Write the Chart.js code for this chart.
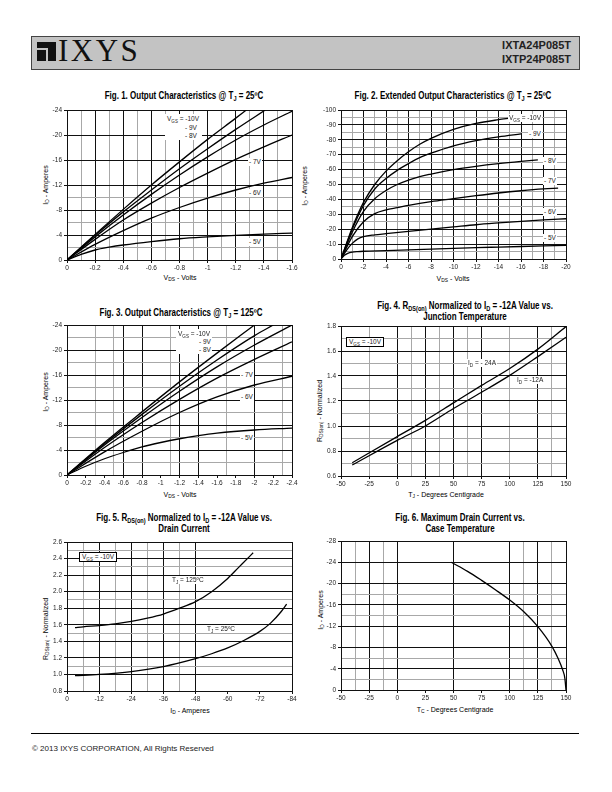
<!DOCTYPE html>
<html>
<head>
<meta charset="utf-8">
<script src="https://cdn.jsdelivr.net/npm/chart.js@4.4.0/dist/chart.umd.min.js"></script>
<style>
  body { margin: 0; width: 612px; height: 792px; position: relative; background: #fff; overflow: hidden;
         font-family: "Liberation Sans Narrow", "Liberation Sans", Arial, sans-serif; color: #000; }
  canvas { position: absolute; }
  .t { position: absolute; white-space: nowrap; }
  .ttl { position: absolute; white-space: nowrap; font-weight: bold; font-size: 10px; line-height: 11px;
         text-align: center; transform: translateX(-50%) scaleX(0.8); }
  .axt { position: absolute; white-space: nowrap; font-size: 7px; transform: translate(-50%, -50%); }
  .axt.rot { transform: translate(-50%, -50%) rotate(-90deg); }
  .lb { position: absolute; white-space: nowrap; font-size: 6.5px; line-height: 8px; background: #fff; padding: 0 1px;
        transform: translateY(-50%); color: #222; }
  .box { border: 1px solid #000; padding: 0 2px; }
  sub { font-size: 70%; vertical-align: -1.5px; line-height: 0; }
</style>
</head>
<body>

<!-- header -->
<div class="t" style="left:31px;top:36px;width:547px;height:32px;background:#c3c3c3;border:1px solid #444"></div>
<div class="t" style="left:37px;top:42px;width:19px;height:19px;background:#111"></div>
<div class="t" style="left:37px;top:48px;width:11px;height:2px;background:#c3c3c3"></div>
<div class="t" style="left:46px;top:48px;width:2px;height:13px;background:#c3c3c3"></div>
<div class="t" style="left:58px;top:33px;font-family:'Liberation Serif','Times New Roman',serif;font-size:31px;letter-spacing:2.5px;color:#111">IXYS</div>
<div class="t" style="right:41px;top:38px;font-family:'Liberation Sans',Arial,sans-serif;font-weight:bold;font-size:11px;line-height:14px;text-align:right;color:#222">IXTA24P085T<br>IXTP24P085T</div>

<!-- titles -->
<div class="ttl" style="left:184px;top:90px">Fig. 1. Output Characteristics @ T<sub>J</sub> = 25ºC</div>
<div class="ttl" style="left:453px;top:90px">Fig. 2. Extended Output Characteristics @ T<sub>J</sub> = 25ºC</div>
<div class="ttl" style="left:181px;top:307px">Fig. 3. Output Characteristics @ T<sub>J</sub> = 125ºC</div>
<div class="ttl" style="left:465px;top:300px">Fig. 4. R<sub>DS(on)</sub> Normalized to I<sub>D</sub> = -12A Value vs.<br>Junction Temperature</div>
<div class="ttl" style="left:184px;top:512px">Fig. 5. R<sub>DS(on)</sub> Normalized to I<sub>D</sub> = -12A Value vs.<br>Drain Current</div>
<div class="ttl" style="left:460px;top:512px">Fig. 6. Maximum Drain Current vs.<br>Case Temperature</div>

<!-- axis titles -->
<div class="axt" style="left:180px;top:277px">V<sub>DS</sub> - Volts</div>
<div class="axt rot" style="left:45px;top:185px">I<sub>D</sub> - Amperes</div>
<div class="axt" style="left:453px;top:278px">V<sub>DS</sub> - Volts</div>
<div class="axt rot" style="left:304px;top:186px">I<sub>D</sub> - Amperes</div>
<div class="axt" style="left:180px;top:494px">V<sub>DS</sub> - Volts</div>
<div class="axt rot" style="left:45px;top:392px">I<sub>D</sub> - Amperes</div>
<div class="axt" style="left:446px;top:494px">T<sub>J</sub> - Degrees Centigrade</div>
<div class="axt rot" style="left:319px;top:411px">R<sub>DS(on)</sub> - Normalized</div>
<div class="axt" style="left:190px;top:710px">I<sub>D</sub> - Amperes</div>
<div class="axt rot" style="left:45px;top:629px">R<sub>DS(on)</sub> - Normalized</div>
<div class="axt" style="left:455px;top:709px">T<sub>C</sub> - Degrees Centigrade</div>
<div class="axt rot" style="left:320px;top:610px">I<sub>D</sub> - Amperes</div>

<!-- footer -->
<div class="t" style="left:31px;top:733px;width:548px;height:1px;background:#000"></div>
<div class="t" style="left:32px;top:744px;font-family:'Liberation Sans',Arial,sans-serif;font-size:8px;color:#222">© 2013 IXYS CORPORATION, All Rights Reserved</div>

<div id="charts"></div>

<!-- curve labels (drawn after the canvases) -->
<div id="labels">
  <div class="t" style="left:165px;top:114px;width:37px;height:26px;background:#fff"></div>
  <div class="lb" style="left:166px;top:119px">V<sub>GS</sub> = -10V</div>
  <div class="lb" style="left:184px;top:127.5px">- 9V</div>
  <div class="lb" style="left:184px;top:136px">- 8V</div>
  <div class="lb" style="left:248px;top:162px">- 7V</div>
  <div class="lb" style="left:248px;top:193px">- 6V</div>
  <div class="lb" style="left:248px;top:242px">- 5V</div>

  <div class="lb" style="left:508px;top:118px">V<sub>GS</sub> = -10V</div>
  <div class="lb" style="left:528px;top:134px">- 9V</div>
  <div class="lb" style="left:543px;top:161px">- 8V</div>
  <div class="lb" style="left:543px;top:181px">- 7V</div>
  <div class="lb" style="left:543px;top:212px">- 6V</div>
  <div class="lb" style="left:543px;top:238px">- 5V</div>

  <div class="t" style="left:176px;top:329px;width:36px;height:25px;background:#fff"></div>
  <div class="lb" style="left:177px;top:334px">V<sub>GS</sub> = -10V</div>
  <div class="lb" style="left:198px;top:342px">- 9V</div>
  <div class="lb" style="left:198px;top:349.5px">- 8V</div>
  <div class="lb" style="left:240px;top:375px">- 7V</div>
  <div class="lb" style="left:240px;top:397px">- 6V</div>
  <div class="lb" style="left:240px;top:438px">- 5V</div>

  <div class="lb box" style="left:346px;top:342px">V<sub>GS</sub> = -10V</div>
  <div class="lb" style="left:467px;top:363px">I<sub>D</sub> = - 24A</div>
  <div class="lb" style="left:516px;top:380px">I<sub>D</sub> = -12A</div>

  <div class="lb box" style="left:79px;top:557px">V<sub>GS</sub> = -10V</div>
  <div class="lb" style="left:171px;top:580px">T<sub>J</sub> = 125ºC</div>
  <div class="lb" style="left:206px;top:629px">T<sub>J</sub> = 25ºC</div>
</div>

<script>
// ---- Fig. 1: output characteristics @ 25C, [VDS, ID] per VGS ----
const f1Vgs10 = [[0,0],[-0.2,-4.1],[-0.4,-8.1],[-0.6,-12.0],[-0.8,-15.7],[-1.0,-19.3],[-1.2,-22.7],[-1.275,-24]];
const f1Vgs9  = [[0,0],[-0.2,-3.95],[-0.4,-7.7],[-0.6,-11.2],[-0.8,-14.6],[-1.0,-17.8],[-1.2,-20.9],[-1.41,-24]];
const f1Vgs8  = [[0,0],[-0.2,-3.7],[-0.4,-7.2],[-0.6,-10.5],[-0.8,-13.6],[-1.0,-16.5],[-1.2,-19.2],[-1.4,-21.6],[-1.6,-23.8]];
const f1Vgs7  = [[0,0],[-0.2,-3.3],[-0.4,-6.4],[-0.6,-9.1],[-0.8,-11.6],[-1.0,-13.9],[-1.2,-16.1],[-1.4,-18.1],[-1.6,-20.0]];
const f1Vgs6  = [[0,0],[-0.2,-2.5],[-0.4,-4.7],[-0.6,-6.7],[-0.8,-8.4],[-1.0,-9.9],[-1.2,-11.2],[-1.4,-12.3],[-1.6,-13.2]];
const f1Vgs5  = [[0,0],[-0.1,-0.9],[-0.2,-1.6],[-0.3,-2.05],[-0.4,-2.4],[-0.6,-2.95],[-0.8,-3.4],[-1.0,-3.7],[-1.2,-3.95],[-1.4,-4.15],[-1.6,-4.3]];

// ---- Fig. 2: extended output characteristics @ 25C ----
const f2Vgs10 = [[0,0],[-1,-21],[-2,-38],[-3,-50],[-4,-59],[-5,-66],[-6,-72],[-7,-77],[-8,-81],[-10,-87],[-12,-91],[-14,-93.5],[-15,-94.5]];
const f2Vgs9  = [[0,0],[-1,-20],[-2,-36],[-3,-47],[-4,-54],[-5,-59.5],[-6,-64],[-7,-68],[-8,-71],[-10,-76],[-12,-79.5],[-14,-82],[-16,-84]];
const f2Vgs8  = [[0,0],[-1,-18],[-2,-32],[-3,-40.5],[-4,-46],[-5,-50],[-6,-53],[-7,-55.3],[-8,-57],[-10,-60],[-12,-62.2],[-14,-64],[-16,-65.5],[-17.5,-66.5]];
const f2Vgs7  = [[0,0],[-1,-15],[-2,-25],[-3,-30.5],[-4,-33],[-5,-34.5],[-6,-36],[-8,-38.5],[-10,-40.5],[-12,-42.5],[-14,-44.3],[-16,-45.8],[-18,-47],[-19.3,-47.5]];
const f2Vgs6  = [[0,0],[-0.5,-6],[-1,-10.5],[-1.5,-13.5],[-2,-15],[-3,-16.2],[-4,-17],[-6,-18.6],[-8,-20],[-10,-21.5],[-12,-23],[-14,-24.2],[-16,-25.3],[-18,-26.2],[-20,-27]];
const f2Vgs5  = [[0,0],[-0.3,-2.5],[-0.6,-3.8],[-1,-4.6],[-1.5,-5],[-2,-5.2],[-4,-5.6],[-6,-6.1],[-8,-6.6],[-10,-7.1],[-12,-7.6],[-14,-8.0],[-16,-8.4],[-18,-8.8],[-20,-9.2]];

// ---- Fig. 3: output characteristics @ 125C ----
const f3Vgs10 = [[0,0],[-0.4,-5.2],[-0.8,-10.1],[-1.2,-14.9],[-1.6,-19.5],[-2.0,-24]];
const f3Vgs9  = [[0,0],[-0.4,-5.0],[-0.8,-9.7],[-1.2,-14.2],[-1.6,-18.4],[-2.0,-22.3],[-2.2,-24]];
const f3Vgs8  = [[0,0],[-0.4,-4.8],[-0.8,-9.2],[-1.2,-13.4],[-1.6,-17.3],[-2.0,-20.8],[-2.4,-24]];
const f3Vgs7  = [[0,0],[-0.4,-4.4],[-0.8,-8.4],[-1.2,-12.1],[-1.6,-15.5],[-2.0,-18.5],[-2.4,-21.3]];
const f3Vgs6  = [[0,0],[-0.4,-3.7],[-0.8,-7.0],[-1.2,-10.0],[-1.6,-12.5],[-2.0,-14.4],[-2.4,-15.8]];
const f3Vgs5  = [[0,0],[-0.2,-1.4],[-0.4,-2.6],[-0.6,-3.6],[-0.8,-4.5],[-1.0,-5.2],[-1.2,-5.8],[-1.4,-6.3],[-1.6,-6.7],[-2.0,-7.2],[-2.4,-7.5]];

// ---- Fig. 4: RDS(on) vs junction temperature ----
const f4Tj   = [-40, 0, 25, 50, 75, 100, 125, 150];
const f4Id24 = [0.706, 0.915, 1.045, 1.185, 1.325, 1.46, 1.615, 1.795];
const f4Id12 = [0.688, 0.885, 1.0, 1.14, 1.27, 1.405, 1.555, 1.71];

// ---- Fig. 5: RDS(on) vs drain current ----
const f5Id125 = [-3, -6, -12, -18, -24, -30, -36, -42, -48, -54, -60, -64, -68, -69.5];
const f5R125  = [1.565, 1.575, 1.59, 1.61, 1.64, 1.68, 1.73, 1.80, 1.88, 2.0, 2.16, 2.29, 2.42, 2.47];
const f5Id25  = [-3, -12, -24, -36, -48, -54, -60, -66, -72, -76, -80, -82];
const f5R25   = [0.985, 1.0, 1.035, 1.095, 1.19, 1.25, 1.32, 1.41, 1.52, 1.62, 1.76, 1.85];

// ---- Fig. 6: max drain current vs case temperature ----
const f6Tc = [48, 62.5, 75, 87.5, 100, 112.5, 125, 137.5, 143, 147, 149, 150];
const f6Id = [-24, -22.3, -20.6, -18.8, -16.9, -14.7, -11.9, -8.2, -5.9, -3.8, -2.2, 0];

const FONT = '"Liberation Sans Narrow", "Liberation Sans", Arial, sans-serif';
const BLACK = '#111';
const GRAY = '#a8a8a8';
const NONE = 'rgba(0,0,0,0)';

function mult(v, s) { const r = v / s; return Math.abs(r - Math.round(r)) < 1e-6; }
function inList(list) { return v => list.some(a => Math.abs(a - v) < 1e-6); }
const trim = v => String(parseFloat(v.toFixed(2)));
const one = v => v.toFixed(1);

function lineColor(spec, v) {
    if (Math.abs(v - spec.min) < 1e-6 || Math.abs(v - spec.max) < 1e-6) return BLACK;
    if (spec.black(v)) return BLACK;
    if (spec.gray(v)) return GRAY;
    return NONE;
}

function axis(spec, pos) {
    return {
        type: 'linear', position: pos, min: spec.min, max: spec.max, reverse: !!spec.reverse,
        ticks: {
            stepSize: spec.step, autoSkip: false, maxRotation: 0, minRotation: 0,
            padding: pos === 'left' ? 2 : 1, color: '#222',
            font: { family: FONT, size: 6.5 },
            callback: v => mult(v, spec.label) ? spec.fmt(v) : ''
        },
        grid: {
            lineWidth: 1, tickLength: 3, drawTicks: true,
            color: c => lineColor(spec, c.tick.value),
            tickColor: c => mult(c.tick.value, spec.label) ? BLACK : NONE
        },
        border: { color: BLACK, width: 1 },
        afterFit: s => { if (pos === 'left') s.width = 34; else s.height = 16; }
    };
}

function line(points) {
    return { data: points.map(p => ({ x: p[0], y: p[1] })), borderColor: '#000', borderWidth: 1.3,
             pointRadius: 0, fill: false, cubicInterpolationMode: 'monotone' };
}
function zipLine(xs, ys) { return line(xs.map((x, i) => [x, ys[i]])); }

function plot(rect, xSpec, ySpec, datasets) {
    const c = document.createElement('canvas');
    const w = rect.w + 46, h = rect.h + 22;
    c.width = w; c.height = h;
    c.style.left = (rect.l - 34) + 'px';
    c.style.top = (rect.t - 6) + 'px';
    c.style.width = w + 'px'; c.style.height = h + 'px';
    document.getElementById('charts').appendChild(c);
    new Chart(c, {
        type: 'line',
        data: { datasets },
        options: {
            responsive: false, animation: false, devicePixelRatio: 1,
            layout: { padding: { top: 6, right: 12, left: 0, bottom: 0 } },
            scales: { x: axis(xSpec, 'bottom'), y: axis(ySpec, 'left') },
            plugins: { legend: { display: false }, tooltip: { enabled: false } }
        }
    });
}

const all = () => true;

plot({ l: 67, t: 110, w: 225, h: 150 },
    { min: -1.6, max: 0, step: 0.1, label: 0.2, reverse: true, fmt: trim, black: v => mult(v, 0.2), gray: all },
    { min: -24, max: 0, step: 2, label: 4, reverse: true, fmt: trim, black: v => mult(v, 4), gray: inList([-2, -6, -10]) },
    [f1Vgs10, f1Vgs9, f1Vgs8, f1Vgs7, f1Vgs6, f1Vgs5].map(line));

plot({ l: 341, t: 110, w: 225, h: 149 },
    { min: -20, max: 0, step: 1, label: 2, reverse: true, fmt: trim, black: v => mult(v, 2), gray: all },
    { min: -100, max: 0, step: 5, label: 10, reverse: true, fmt: trim, black: v => mult(v, 10), gray: all },
    [f2Vgs10, f2Vgs9, f2Vgs8, f2Vgs7, f2Vgs6, f2Vgs5].map(line));

plot({ l: 67, t: 325, w: 225, h: 150 },
    { min: -2.4, max: 0, step: 0.1, label: 0.2, reverse: true, fmt: trim,
      black: inList([-0.6, -0.8, -1.2, -1.4, -2.0]), gray: inList([-0.3, -0.5, -1.1, -1.7, -2.3]) },
    { min: -24, max: 0, step: 2, label: 4, reverse: true, fmt: trim, black: v => mult(v, 4), gray: all },
    [f3Vgs10, f3Vgs9, f3Vgs8, f3Vgs7, f3Vgs6, f3Vgs5].map(line));

plot({ l: 341, t: 326, w: 225, h: 150 },
    { min: -50, max: 150, step: 12.5, label: 25, fmt: trim,
      black: inList([0, 25, 50, 75, 125]), gray: inList([-25, 12.5, 37.5, 62.5, 100, 137.5]) },
    { min: 0.6, max: 1.8, step: 0.1, label: 0.2, fmt: one, black: v => mult(v, 0.2), gray: all },
    [zipLine(f4Tj, f4Id24), zipLine(f4Tj, f4Id12)]);

plot({ l: 67, t: 541.5, w: 225, h: 149 },
    { min: -84, max: 0, step: 6, label: 12, reverse: true, fmt: trim,
      black: inList([-12, -24, -36, -48]), gray: inList([-6, -18, -30, -42]) },
    { min: 0.8, max: 2.6, step: 0.1, label: 0.2, fmt: one, black: v => mult(v, 0.2), gray: inList([2.5, 2.3, 1.9, 1.5, 1.1]) },
    [zipLine(f5Id125, f5R125), zipLine(f5Id25, f5R25)]);

plot({ l: 341, t: 541, w: 225, h: 149 },
    { min: -50, max: 150, step: 12.5, label: 25, fmt: trim,
      black: inList([-25, 0, 50, 100, 125]), gray: inList([-37.5, -12.5, 112.5, 137.5]) },
    { min: -28, max: 0, step: 2, label: 4, reverse: true, fmt: trim, black: v => mult(v, 4), gray: inList([-2, -6, -14, -18]) },
    [zipLine(f6Tc, f6Id)]);

// keep the curve labels on top of the canvases
document.body.appendChild(document.getElementById('labels'));
</script>
</body>
</html>
